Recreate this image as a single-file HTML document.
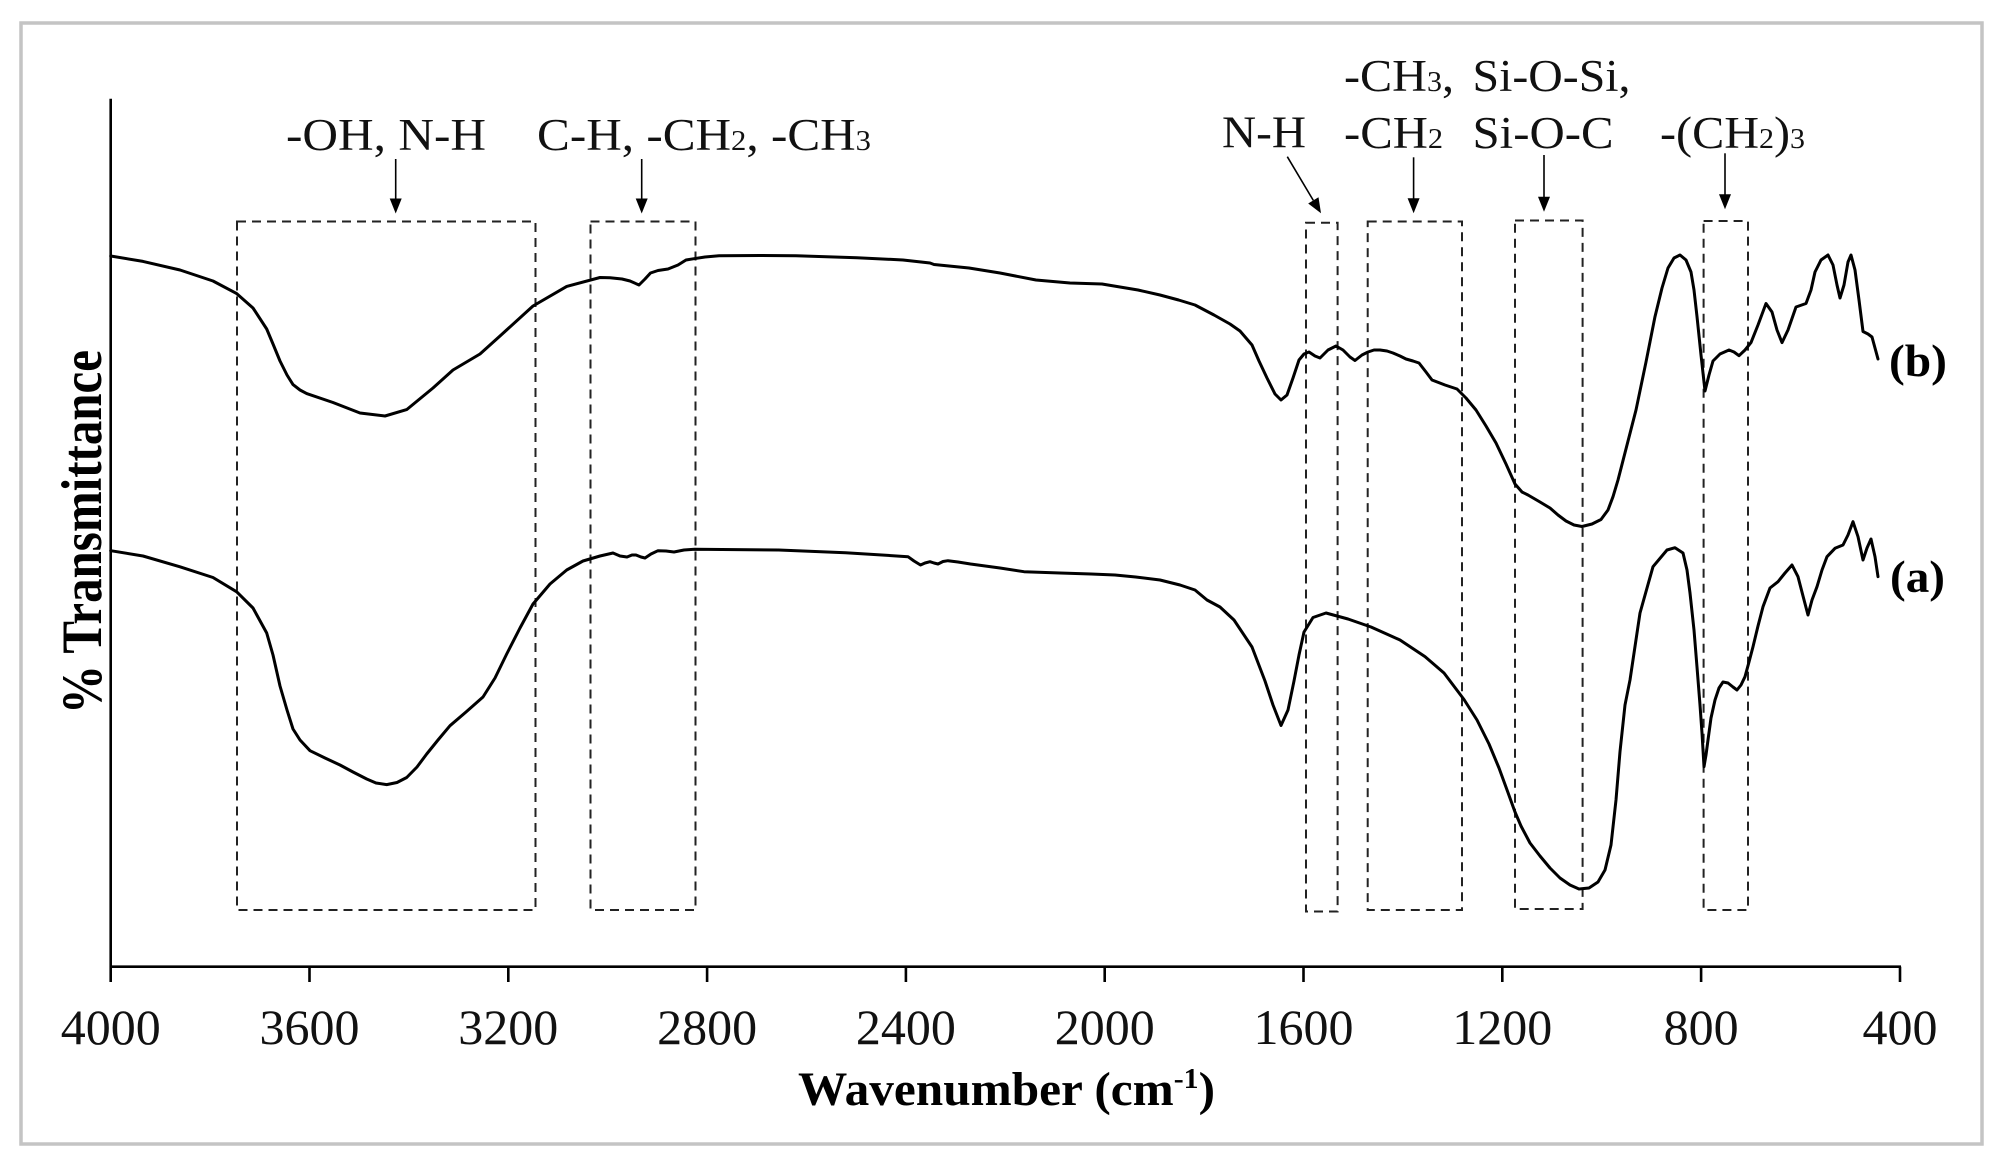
<!DOCTYPE html>
<html><head><meta charset="utf-8"><style>
html,body{margin:0;padding:0;background:#fff;}
svg{display:block;}
</style></head><body>
<svg width="2006" height="1168" viewBox="0 0 2006 1168" xmlns="http://www.w3.org/2000/svg" font-family="'Liberation Serif', 'Times New Roman', serif">
<rect x="0" y="0" width="2006" height="1168" fill="#fff"/>
<rect x="21" y="23" width="1961" height="1121" fill="none" stroke="#c4c4c4" stroke-width="3.5"/>

<!-- axes -->
<g stroke="#000" stroke-width="2.6" fill="none">
<line x1="110.7" y1="98.7" x2="110.7" y2="966.7"/>
<line x1="109.5" y1="966.7" x2="1901" y2="966.7"/>
<line x1="110.7" y1="966.7" x2="110.7" y2="982"/>
<line x1="309.5" y1="966.7" x2="309.5" y2="982"/>
<line x1="508.3" y1="966.7" x2="508.3" y2="982"/>
<line x1="707.1" y1="966.7" x2="707.1" y2="982"/>
<line x1="905.9" y1="966.7" x2="905.9" y2="982"/>
<line x1="1104.7" y1="966.7" x2="1104.7" y2="982"/>
<line x1="1303.5" y1="966.7" x2="1303.5" y2="982"/>
<line x1="1502.3" y1="966.7" x2="1502.3" y2="982"/>
<line x1="1701.1" y1="966.7" x2="1701.1" y2="982"/>
<line x1="1900" y1="966.7" x2="1900" y2="982"/>
</g>

<g font-size="50" text-anchor="middle" fill="#111">
<text x="110.7" y="1044">4000</text>
<text x="309.5" y="1044">3600</text>
<text x="508.3" y="1044">3200</text>
<text x="707.1" y="1044">2800</text>
<text x="905.9" y="1044">2400</text>
<text x="1104.7" y="1044">2000</text>
<text x="1303.5" y="1044">1600</text>
<text x="1502.3" y="1044">1200</text>
<text x="1701.1" y="1044">800</text>
<text x="1900" y="1044">400</text>
</g>

<text x="798" y="1105" font-size="48" font-weight="bold" textLength="417" lengthAdjust="spacingAndGlyphs" fill="#000">Wavenumber (cm<tspan font-size="29" dy="-17">-1</tspan><tspan dy="17">)</tspan></text>

<text transform="translate(101,532) rotate(-90) scale(1,1.2)" font-size="48" font-weight="bold" text-anchor="middle" textLength="364" lengthAdjust="spacingAndGlyphs" fill="#000">% Transmittance</text>

<!-- dashed boxes -->
<g fill="none" stroke="#222" stroke-width="2" stroke-dasharray="9,6">
<rect x="237" y="221.5" width="298.5" height="688.5"/>
<rect x="590.5" y="221.5" width="105" height="688.5"/>
<rect x="1306" y="222.7" width="31.6" height="688.8"/>
<rect x="1367.7" y="221.5" width="94.3" height="688.5"/>
<rect x="1515" y="220.5" width="67.6" height="688.5"/>
<rect x="1703.6" y="221" width="44.4" height="689"/>
</g>

<!-- labels -->
<g font-size="45" fill="#111">
<text x="286" y="150" textLength="200" lengthAdjust="spacingAndGlyphs">-OH, N-H</text>
<text x="537" y="150" textLength="334" lengthAdjust="spacingAndGlyphs">C-H, -CH<tspan font-size="28">2</tspan>, -CH<tspan font-size="28">3</tspan></text>
<text x="1222" y="147.5" textLength="84" lengthAdjust="spacingAndGlyphs">N-H</text>
<text x="1344" y="91" textLength="110" lengthAdjust="spacingAndGlyphs">-CH<tspan font-size="28">3</tspan>,</text>
<text x="1344" y="148" textLength="99" lengthAdjust="spacingAndGlyphs">-CH<tspan font-size="28">2</tspan></text>
<text x="1472.5" y="91" textLength="158" lengthAdjust="spacingAndGlyphs">Si-O-Si,</text>
<text x="1472.5" y="148" textLength="141" lengthAdjust="spacingAndGlyphs">Si-O-C</text>
<text x="1660" y="148" textLength="145" lengthAdjust="spacingAndGlyphs">-(CH<tspan font-size="28">2</tspan>)<tspan font-size="28">3</tspan></text>
</g>

<g font-size="46" font-weight="bold" fill="#000">
<text x="1889" y="376" textLength="58" lengthAdjust="spacingAndGlyphs">(b)</text>
<text x="1890" y="592" textLength="55" lengthAdjust="spacingAndGlyphs">(a)</text>
</g>

<!-- arrows -->
<g stroke="#000" stroke-width="1.6">
<line x1="395.7" y1="159" x2="395.7" y2="200"/>
<line x1="641.7" y1="159" x2="641.7" y2="200"/>
<line x1="1413.6" y1="157.3" x2="1413.6" y2="199"/>
<line x1="1544" y1="155" x2="1544" y2="197"/>
<line x1="1725" y1="153.3" x2="1725" y2="195"/>
<line x1="1287.3" y1="156.7" x2="1313.3" y2="200.4"/>
</g>
<g fill="#000">
<polygon points="395.7,213.5 389.7,198.5 401.7,198.5"/>
<polygon points="641.7,213.5 635.7,198.5 647.7,198.5"/>
<polygon points="1413.6,213.3 1407.6,198.3 1419.6,198.3"/>
<polygon points="1544,211.7 1538,196.7 1550,196.7"/>
<polygon points="1725,209.3 1719,194.3 1731,194.3"/>
<polygon points="1321,213.3 1308.2,203.5 1318.5,197.3"/>
</g>

<!-- curves -->
<g fill="none" stroke="#000" stroke-width="3" stroke-linejoin="round" stroke-linecap="round">
<polyline points="110.7,256 143,261.4 180,270 213,281 236.7,293.6 253,308 266.7,329 273,344 280,361 287,375 293,384.6 300,390 306.7,393.6 333,402.5 360,413 385,416 406.7,409.6 433,388 453,370 480,354 500,336 533,306 566.7,286.4 600,277.5 610,277.7 622,279 630,281 639,285 645,279 650.5,273 658,270.5 668,269 678,265 686,260 694,258.7 705,257 719,255.7 760,255.5 796,255.7 857,257.7 903,260 930,263 934,264.5 969,268 1000,273 1036,280 1070,283 1102,284 1138,290 1160,295 1178.6,300 1195,305 1214,315 1230,324 1240,331 1252,345 1259,361 1267,378 1275,394 1281,400 1287,395 1293,378 1299,360 1304,354 1309,352 1315,356 1320,358 1328,350 1336,346 1343,350 1350,357 1355,360.5 1362,355 1368,352 1374,350 1380,350 1387,351 1393,353 1400,356 1406,359 1413,361 1419,363 1426,372 1432,380 1445,385 1457,389 1466,398 1476,410 1486,426 1496,443 1506,464 1515,484 1522,492 1528,495 1540,502 1550,508 1558,515 1566,521 1574,525 1582,526.5 1592,524 1601,519.5 1608,510 1613,496.7 1618,480 1627,445 1636,410 1646,362 1655,316.6 1662,288 1668,268 1674,258 1680,255 1686,260 1691,272 1694,290 1697,316.6 1701,355 1705,391 1709,375 1713,361 1720,354 1729,350 1734,352 1739,355.7 1745,350 1751,342.6 1758,325 1766,303.5 1772,312 1777,330 1782,342.6 1788,330 1796,307 1806,303.5 1811,290 1815,272 1821,260 1828,255 1833,265 1837,285 1840,298 1844,285 1848,262 1851,255 1855,270 1859,300 1863,331.5 1868,334 1872,337 1875,348 1878,359"/>
<polyline points="110.7,550.7 143,556 180,566.8 213,577.5 236.7,591.8 253,608 266.7,633 273,655 280,686 287,710 293,729 300,740 310,750.7 325,758 340,765 353,772 366.7,779 376,783 386.7,784.6 397,782.5 406.7,777.5 417,767 426.7,754 438,740 450,725.7 466,712 483,697 495,678 506.7,654 520,628 533,604 550,584 566.7,570 583,561 600,556 613,553 620,556 627,557 632,555 636,555 641,557 645,558 651,554 658,550.7 666,551 674,552 684,550 694.6,549.3 778.6,550 845.5,552.7 908,556.7 914,561 920.5,565 925,563 930,561.7 934,563 938,564 943,561.5 948,560.7 958,562 970.5,564 1000,568 1024,571.7 1060,573 1091,574 1115,575 1135.7,577 1160,580 1180,585 1195,590 1207,600 1220,607 1234,620 1252,647 1265,681 1273,705 1281,725.5 1288,710 1294,681 1299,655 1304,632 1313,617.5 1326,613 1348,619 1371,627 1400,640 1425,656.6 1444,673 1464,699.5 1477,720 1489,744 1499,768 1508,792.6 1515,812 1521,826 1530,843 1540,856 1550,868 1560,878 1570,885 1579,889 1589,888 1598,882 1605,870 1611,845 1616,800 1620,751.6 1625,705 1630,680 1640,613 1653,566.7 1667,550 1675,547.7 1683,553 1687,570 1690,593 1694,630 1697,667 1700,705 1702,733 1704,766.7 1706,755 1708,740 1711,718 1715,700 1719,688 1723,682 1728,683 1733,687 1737,690 1741,685 1745,676.7 1749,662 1753,646.7 1758,626 1763,606.7 1770,588 1778,581.7 1785,573 1792,565 1798,576.7 1803,596 1808,615 1812,600 1817,586.7 1822,570 1827,556.7 1835,548.3 1843,545 1848,535 1853,521.7 1858,536.7 1863,560 1867,548 1871,539 1875,556.7 1878,576.7"/>
</g>
</svg>
</body></html>
